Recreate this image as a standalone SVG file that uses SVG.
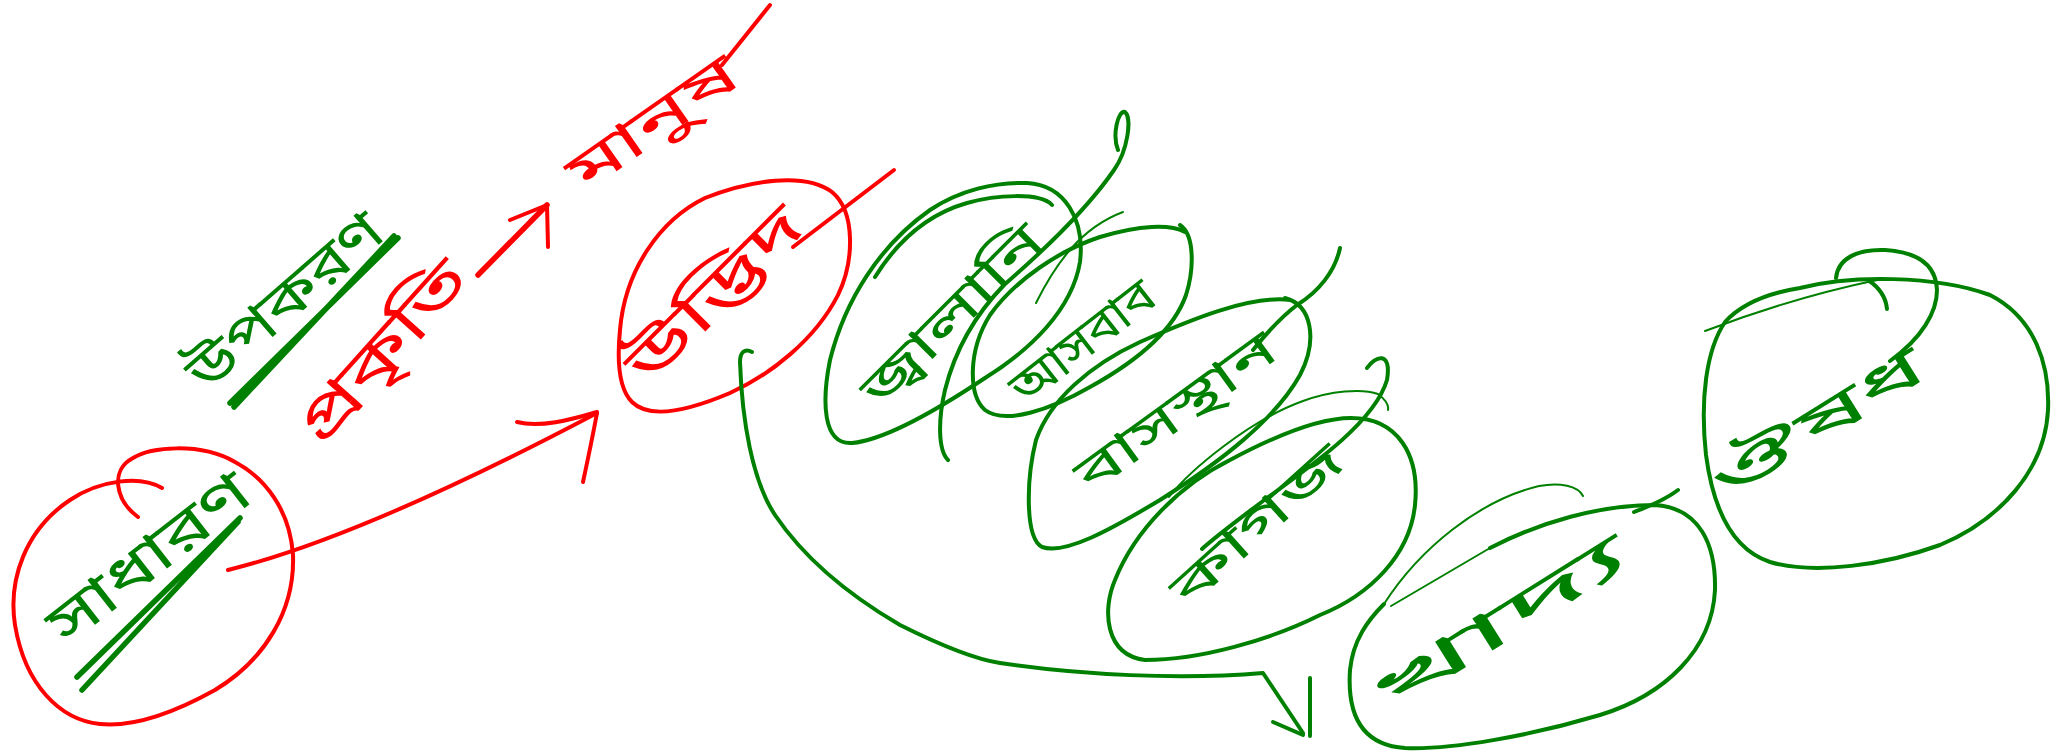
<svg xmlns="http://www.w3.org/2000/svg" width="2055" height="755" viewBox="0 0 2055 755">
<style>
.r{stroke:#ff0000;fill:none;stroke-width:4;stroke-linecap:round;stroke-linejoin:round}
.g{stroke:#008000;fill:none;stroke-width:4;stroke-linecap:round;stroke-linejoin:round}
.thin{stroke-width:2}
.thick{stroke-width:5.5}
.t{font-family:'Noto Sans Bengali','Noto Serif Bengali','Lohit Bengali','Mukti','FreeSans','Noto Sans',sans-serif;text-anchor:middle;dominant-baseline:central;font-weight:400}
.tr{fill:#ff0000}
.tg{fill:#008000}
</style>
<rect width="2055" height="755" fill="#ffffff"/>

<g id="node-sadharon">
<path class="r" d="M138,517 C115,500 110,470 133,458 C150,447 200,442 235,462 C265,478 290,510 293,555 C295,610 265,660 215,690 C170,715 130,727 100,724 C60,720 25,685 15,625 C8,580 25,530 70,500 C100,480 140,475 162,488"/>
<text class="t tg" transform="translate(152,562) rotate(-38)" font-size="58" textLength="240" lengthAdjust="spacingAndGlyphs">সাধারণ</text>
<path class="g thick" d="M77,677 L240,518 M82,690 L238,522"/>
</g>

<g id="node-upokoron">
<text class="t tg" transform="translate(288,305) rotate(-41)" font-size="56" textLength="240" lengthAdjust="spacingAndGlyphs">উপকরণ</text>
<path class="g thick" d="M230,403 L398,238 M234,407 L394,236"/>
</g>

<g id="node-prokriti">
<text class="t tr" transform="translate(386,355) rotate(-48)" font-size="60" textLength="225" lengthAdjust="spacingAndGlyphs">প্রকৃতি</text>
</g>

<g id="node-manush">
<text class="t tr" transform="translate(655,127) rotate(-35)" font-size="55" textLength="195" lengthAdjust="spacingAndGlyphs">মানুষ</text>
<path class="r" d="M722,65 L770,5"/>
</g>

<g id="node-udbhid">
<path class="r" d="M620,330 C625,270 660,220 705,198 C750,180 805,172 832,192 C856,212 854,262 838,295 C815,340 770,375 730,393 C690,410 650,420 632,402 C618,388 617,360 620,330 Z"/>
<text class="t tr" transform="translate(718,298) rotate(-45)" font-size="58" textLength="225" lengthAdjust="spacingAndGlyphs">উদ্ভিদ</text>
<path class="r" d="M793,247 L894,170"/>
</g>

<g id="node-g1">
<path class="g" d="M1027,183 C1065,185 1085,220 1080,262 C1072,310 1030,350 985,378 C940,408 885,440 852,443 C822,445 822,400 830,360 C845,300 880,245 930,210 C960,190 995,182 1027,183 Z"/>
<path class="g" d="M875,277 C895,245 925,215 967,203 C995,195 1040,192 1052,205"/>
<path class="g" d="M1118,150 C1112,135 1118,110 1125,112 C1132,118 1128,150 1114,170 C1090,205 1050,245 1004,285 C975,315 955,350 945,390 C938,420 938,450 948,460"/>
<text class="t tg" transform="translate(955,318) rotate(-45)" font-size="50" textLength="235" lengthAdjust="spacingAndGlyphs">জ্বালানি</text>
</g>

<g id="node-g2">
<path class="g" d="M1180,225 C1195,235 1194,270 1186,295 C1172,335 1130,365 1090,387 C1050,410 1005,425 985,410 C968,395 968,350 990,315 C1015,280 1060,250 1100,237 C1140,225 1170,224 1185,232"/>
<path class="g thin" d="M1036,303 C1055,265 1080,228 1123,212"/>
<text class="t tg" transform="translate(1085,345) rotate(-38)" font-size="48" textLength="170" lengthAdjust="spacingAndGlyphs">আসবাব</text>
</g>

<g id="node-g3">
<path class="g" d="M1285,298 C1312,305 1318,340 1300,375 C1275,420 1220,462 1160,500 C1110,530 1065,555 1042,547 C1025,538 1026,480 1036,440 C1050,400 1090,365 1140,342 C1190,320 1250,295 1290,300"/>
<path class="g" d="M1340,248 C1335,272 1318,292 1297,305 C1280,318 1265,335 1253,350"/>
<text class="t tg" transform="translate(1178,415) rotate(-36)" font-size="50" textLength="235" lengthAdjust="spacingAndGlyphs">বাসস্থান</text>
</g>

<g id="node-g4">
<path class="g" d="M1351,418 C1398,418 1420,455 1415,505 C1410,555 1370,595 1320,615 C1270,640 1200,660 1145,660 C1105,655 1102,610 1115,580 C1135,530 1180,485 1230,460 C1275,436 1320,418 1351,418 Z"/>
<path class="g thin" d="M1169,497 C1190,470 1250,420 1303,401 C1330,391 1362,388 1378,394 C1386,400 1389,405 1388,410"/>
<path class="g" d="M1367,368 C1375,356 1392,350 1387,380 C1375,420 1320,460 1263,501 C1238,520 1215,537 1202,549"/>
<text class="t tg" transform="translate(1260,528) rotate(-42)" font-size="48" textLength="215" lengthAdjust="spacingAndGlyphs">কাগজ</text>
</g>

<g id="node-g5">
<path class="g thin" d="M1384,604 C1420,548 1480,500 1539,486 C1560,482 1578,486 1583,496"/>
<path class="g thin" d="M1391,606 L1490,548"/>
<path class="g" d="M1490,548 C1540,522 1600,505 1655,505 C1700,508 1716,545 1715,590 C1712,650 1665,695 1600,715 C1530,736 1450,750 1405,748 C1362,745 1347,715 1350,670 C1353,640 1368,620 1384,604"/>
<path class="g" d="M1678,490 C1665,500 1650,506 1634,512"/>
<text class="t tg" transform="translate(1502,628) rotate(-32)" font-size="55" textLength="290" lengthAdjust="spacingAndGlyphs">খাদ্য</text>
</g>

<g id="node-g6">
<path class="g" d="M1800,288 C1850,275 1935,275 1990,295 C2035,318 2050,365 2048,410 C2045,470 2000,520 1940,545 C1885,565 1815,575 1770,562 C1728,548 1712,500 1706,455 C1700,400 1706,350 1725,322 C1745,300 1775,292 1800,288 Z"/>
<path class="g" d="M1836,278 C1838,258 1858,249 1885,250 C1918,252 1936,265 1937,290 C1937,312 1922,338 1890,361"/>
<path class="g thin" d="M1705,331 C1760,310 1820,292 1877,280"/>
<path class="g" d="M1868,280 C1880,288 1886,298 1887,309"/>
<text class="t tg" transform="translate(1820,428) rotate(-32)" font-size="55" textLength="240" lengthAdjust="spacingAndGlyphs">ঔষধ</text>
</g>

<g id="connectors">
<path class="r" d="M228,570 C330,545 470,480 597,413"/>
<path class="r" d="M517,422 C540,428 570,420 597,412 M597,413 C592,440 586,468 583,482"/>
<path class="r thick" d="M478,275 L547,205"/>
<path class="r" d="M510,220 L547,205 L548,247"/>
<path class="g" d="M752,352 C745,348 740,352 740,362 C742,420 752,480 775,515 C800,552 840,590 900,625 C950,650 980,660 1000,663 C1080,675 1180,680 1263,673 L1303,733"/>
<path class="g" d="M1273,722 L1303,735 M1310,678 L1310,736"/>
</g>
</svg>
